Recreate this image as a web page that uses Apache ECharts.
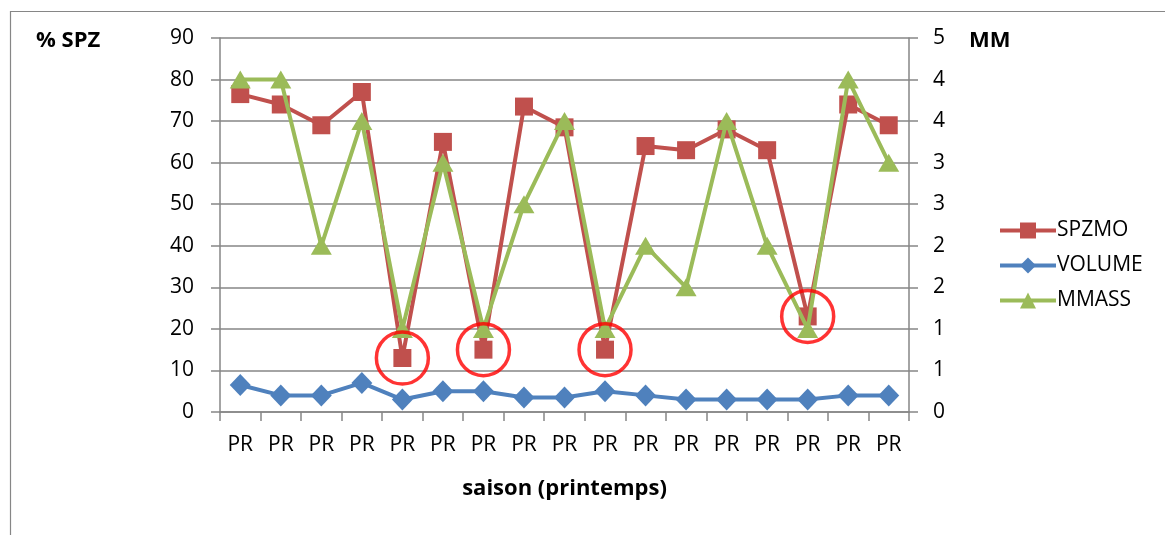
<!DOCTYPE html>
<html>
<head>
<meta charset="utf-8">
<script src="https://cdn.jsdelivr.net/npm/echarts@6/dist/echarts.min.js"></script>
<style>
  html, body { margin: 0; padding: 0; background: #fff; }
  #chart { width: 1165px; height: 535px; }
</style>
</head>
<body>
<div id="chart"></div>
<script>
// Spring samples (one "PR" per sampling)
const categories = ['PR','PR','PR','PR','PR','PR','PR','PR','PR','PR','PR','PR','PR','PR','PR','PR','PR'];
// % SPZ (left axis)
const spzmo  = [76.5, 74, 69, 77, 13, 65, 15, 73.5, 68.5, 15, 64, 63, 68, 63, 23, 74, 69];
const volume = [6.5, 4, 4, 7, 3, 5, 5, 3.5, 3.5, 5, 4, 3, 3, 3, 3, 4, 4];
// MM (right axis)
const mmass  = [4, 4, 2, 3.5, 1, 3, 1, 2.5, 3.5, 1, 2, 1.5, 3.5, 2, 1, 4, 3];
// samples highlighted with a red ring
const highlighted = [4, 6, 9, 14];

const leftTicks = { min: 0, max: 90, interval: 10 };
const rightTicks = { min: 0, max: 4.5, interval: 0.5 };

const ringData = spzmo.map((v, i) => highlighted.includes(i) ? v : '-');

const font = 'Open Sans, DejaVu Sans, sans-serif';
const fs = 21;
const fsTitle = 22;
const grey = '#868686';

const chart = echarts.init(document.getElementById('chart'));
chart.setOption({
  animation: false,
  textStyle: { fontFamily: font },
  grid: { left: 220, right: 256, top: 38, bottom: 123 },
  legend: {
    orient: 'vertical',
    left: 993, top: 215,
    itemWidth: 56, itemHeight: 20, itemGap: 14,
    lineStyle: { width: 4 },
    textStyle: { fontSize: fs, color: '#000', fontFamily: font, padding: [0, 0, 0, -4] },
    data: ['SPZMO', 'VOLUME', 'MMASS']
  },
  xAxis: {
    type: 'category',
    data: categories,
    boundaryGap: true,
    axisLine: { lineStyle: { color: grey, width: 1.5 } },
    axisTick: { show: true, length: 9, lineStyle: { color: grey, width: 1.5 } },
    axisLabel: { color: '#000', fontSize: fs, margin: 23, fontFamily: font },
    name: 'saison (printemps)',
    nameLocation: 'middle',
    nameGap: 77,
    nameTextStyle: { fontWeight: 'bold', fontSize: fsTitle, color: '#000', fontFamily: font, verticalAlign: 'middle' }
  },
  yAxis: [
    {
      type: 'value', position: 'left',
      min: leftTicks.min, max: leftTicks.max, interval: leftTicks.interval,
      axisLine: { show: true, lineStyle: { color: grey, width: 1.5 } },
      axisTick: { show: true, length: 9, lineStyle: { color: grey, width: 1.5 } },
      splitLine: { show: true, lineStyle: { color: grey, width: 1.5 } },
      axisLabel: { color: '#000', fontSize: fs, margin: 26, fontFamily: font }
    },
    {
      type: 'value', position: 'right',
      min: rightTicks.min, max: rightTicks.max, interval: rightTicks.interval,
      axisLine: { show: true, lineStyle: { color: grey, width: 1.5 } },
      axisTick: { show: true, length: 9, lineStyle: { color: grey, width: 1.5 } },
      splitLine: { show: false },
      axisLabel: {
        color: '#000', fontSize: fs, margin: 24, fontFamily: font,
        formatter: v => String(Math.round(v + 1e-9))
      }
    }
  ],
  graphic: [
    {
      type: 'rect', silent: true, z: -1,
      shape: { x: 10.5, y: 11.5, width: 1200, height: 600 },
      style: { fill: 'none', stroke: grey, lineWidth: 1.2 }
    },
    {
      type: 'text', left: 36, top: 30,
      style: { text: '% SPZ', font: 'bold ' + fsTitle + 'px ' + font, fill: '#000' }
    },
    {
      type: 'text', left: 969, top: 30,
      style: { text: 'MM', font: 'bold ' + fsTitle + 'px ' + font, fill: '#000' }
    }
  ],
  series: [
    {
      name: 'SPZMO', type: 'line', yAxisIndex: 0, data: spzmo,
      symbol: 'rect', symbolSize: 18,
      lineStyle: { color: '#C0504D', width: 4 },
      itemStyle: { color: '#C0504D' }, z: 2
    },
    {
      name: 'VOLUME', type: 'line', yAxisIndex: 0, data: volume,
      symbol: 'diamond', symbolSize: [21, 22],
      lineStyle: { color: '#4F81BD', width: 4 },
      itemStyle: { color: '#4F81BD' }, z: 3
    },
    {
      name: 'MMASS', type: 'line', yAxisIndex: 1, data: mmass,
      symbol: 'triangle', symbolSize: [21, 18],
      lineStyle: { color: '#9BBB59', width: 4 },
      itemStyle: { color: '#9BBB59' }, z: 4
    },
    {
      name: 'ring', type: 'scatter', yAxisIndex: 0, data: ringData,
      symbol: 'circle', symbolSize: 52,
      itemStyle: { color: 'rgba(0,0,0,0)', borderColor: '#FF0000', borderWidth: 3.5 },
      z: 5, silent: true
    }
  ]
});
</script>
</body>
</html>
